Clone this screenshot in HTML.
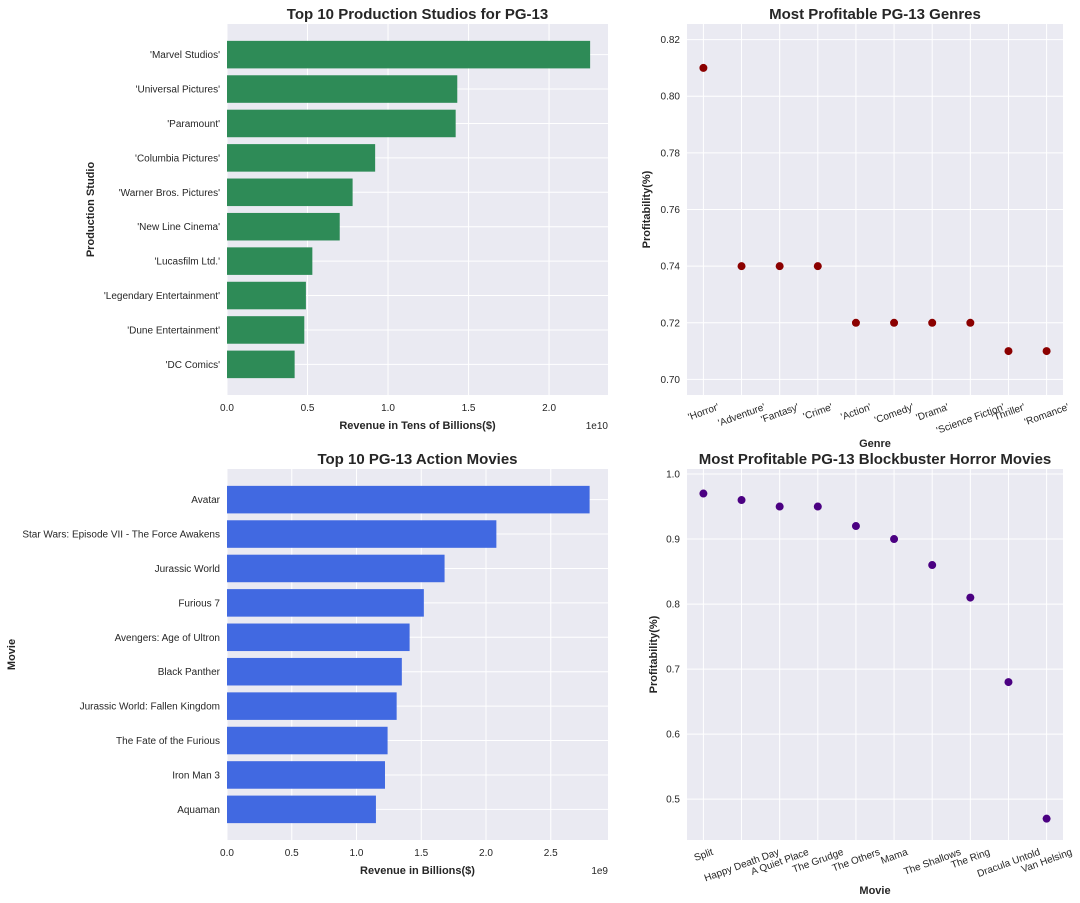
<!DOCTYPE html>
<html><head><meta charset="utf-8"><style>
body{margin:0;background:#fff;}
svg{display:block;font-family:"Liberation Sans",Arial,sans-serif;}
</style></head><body>
<svg id="c" width="1080" height="903"></svg>
<script>
const studios=["'Marvel Studios'","'Universal Pictures'","'Paramount'","'Columbia Pictures'","'Warner Bros. Pictures'","'New Line Cinema'","'Lucasfilm Ltd.'","'Legendary Entertainment'","'Dune Entertainment'","'DC Comics'"];
const studioRevenue=[2.255e10,1.43e10,1.42e10,0.92e10,0.78e10,0.70e10,0.53e10,0.49e10,0.48e10,0.42e10];
const studioTicks=[0,0.5e10,1.0e10,1.5e10,2.0e10];
const studioTickLabels=["0.0","0.5","1.0","1.5","2.0"];
const genres=["'Horror'","'Adventure'","'Fantasy'","'Crime'","'Action'","'Comedy'","'Drama'","'Science Fiction'","'Thriller'","'Romance'"];
const genreProfit=[0.81,0.74,0.74,0.74,0.72,0.72,0.72,0.72,0.71,0.71];
const genreTicks=[0.70,0.72,0.74,0.76,0.78,0.80,0.82];
const movies=["Avatar","Star Wars: Episode VII - The Force Awakens","Jurassic World","Furious 7","Avengers: Age of Ultron","Black Panther","Jurassic World: Fallen Kingdom","The Fate of the Furious","Iron Man 3","Aquaman"];
const movieRevenue=[2.80e9,2.08e9,1.68e9,1.52e9,1.41e9,1.35e9,1.31e9,1.24e9,1.22e9,1.15e9];
const movieTicks=[0,0.5e9,1.0e9,1.5e9,2.0e9,2.5e9];
const movieTickLabels=["0.0","0.5","1.0","1.5","2.0","2.5"];
const horror=["Split","Happy Death Day","A Quiet Place","The Grudge","The Others","Mama","The Shallows","The Ring","Dracula Untold","Van Helsing"];
const horrorProfit=[0.97,0.96,0.95,0.95,0.92,0.90,0.86,0.81,0.68,0.47];
const horrorTicks=[0.5,0.6,0.7,0.8,0.9,1.0];

const NS="http://www.w3.org/2000/svg",svg=document.getElementById('c');
function el(t,a,p,txt){const e=document.createElementNS(NS,t);for(const k in a)e.setAttribute(k,a[k]);if(txt!==undefined)e.textContent=txt;(p||svg).appendChild(e);return e;}
function lin(d0,d1,r0,r1){return v=>r0+(v-d0)/(d1-d0)*(r1-r0);}

function frame(x,y,w,h,name,title){
  const g=el('g',{});
  
  
  const bg=el('rect',{x:x,y:y,width:w,height:h,fill:'#EAEAF2'},g);
  
  
  const t=el('text',{x:x+w/2,y:y-5,'text-anchor':'middle','font-size':15,'font-weight':'bold',fill:'#262626'},g,title);
  
  
  return g;
}

function barChart(o){
  const g=frame(o.x,o.y,o.w,o.h,o.name,o.title);
  const sx=lin(0,o.xmax,o.x,o.x+o.w);
  const n=o.cats.length;
  const sy=lin(-0.89,n-1+0.89,o.y,o.y+o.h);
  o.ticks.forEach((t,i)=>{
    const gl=el('line',{x1:sx(t),x2:sx(t),y1:o.y,y2:o.y+o.h,stroke:'#fff','stroke-width':1},g);
    
    
    const tl=el('text',{x:sx(t),y:o.y+o.h+16,'text-anchor':'middle','font-size':10,fill:'#262626'},g,o.tickLabels[i]);
    
    
  });
  o.cats.forEach((c,i)=>{
    const cy=sy(i);
    const gl=el('line',{x1:o.x,x2:o.x+o.w,y1:cy,y2:cy,stroke:'#fff','stroke-width':1},g);
    
    
  });
  o.cats.forEach((c,i)=>{
    const cy=sy(i),bh=(sy(0.8)-sy(0));
    const b=el('rect',{x:sx(0),y:cy-bh/2,width:sx(o.vals[i])-sx(0),height:bh,fill:o.color},g);
    
    
    const tl=el('text',{x:o.x-7,y:cy+3.5,'text-anchor':'end','font-size':10,fill:'#262626'},g,c);
    
    
  });
  const xt=el('text',{x:o.x+o.w/2,y:o.y+o.h+34,'text-anchor':'middle','font-size':11,'font-weight':'bold',fill:'#262626'},g,o.xlabel);
  
  
  const ex=el('text',{x:o.x+o.w,y:o.y+o.h+34,'text-anchor':'end','font-size':10,fill:'#262626'},g,o.exp);
  
  
  const yt=el('text',{x:0,y:0,'text-anchor':'middle','font-size':11,'font-weight':'bold',fill:'#262626',transform:`translate(${o.ylx},${o.y+o.h/2}) rotate(-90)`},g,o.ylabel);
  
  
}

function scatter(o){
  const g=frame(o.x,o.y,o.w,o.h,o.name,o.title);
  const n=o.cats.length;
  const sx=lin(-0.43,n-1+0.43,o.x,o.x+o.w);
  const sy=lin(o.ymin,o.ymax,o.y+o.h,o.y);
  o.ticks.forEach(t=>{
    const gl=el('line',{x1:o.x,x2:o.x+o.w,y1:sy(t),y2:sy(t),stroke:'#fff','stroke-width':1},g);
    
    
    const tl=el('text',{x:o.x-7,y:sy(t)+3.5,'text-anchor':'end','font-size':10,fill:'#262626'},g,t.toFixed(o.dec));
    
    
  });
  o.cats.forEach((c,i)=>{
    const gl=el('line',{x1:sx(i),x2:sx(i),y1:o.y,y2:o.y+o.h,stroke:'#fff','stroke-width':1},g);
    
    
  });
  o.cats.forEach((c,i)=>{
    const p=el('circle',{cx:sx(i),cy:sy(o.vals[i]),r:4,fill:o.color},g);
    
    
    const tl=el('text',{x:0,y:3.5,'text-anchor':'middle','font-size':10,fill:'#262626'},g,c);
    
    
    const w=tl.getComputedTextLength()||c.length*5.5;
    const bh=w*Math.sin(20*Math.PI/180)+11*Math.cos(20*Math.PI/180);
    const cy=o.y+o.h+6+bh/2;
    tl.setAttribute('transform',`translate(${sx(i)},${cy}) rotate(-20)`);
  });
  const xt=el('text',{x:o.x+o.w/2,y:o.xly,'text-anchor':'middle','font-size':11,'font-weight':'bold',fill:'#262626'},g,o.xlabel);
  
  
  const yt=el('text',{x:0,y:0,'text-anchor':'middle','font-size':11,'font-weight':'bold',fill:'#262626',transform:`translate(${o.ylx},${o.y+o.h/2}) rotate(-90)`},g,o.ylabel);
  
  
}

barChart({x:227,y:24,w:381,h:371,name:'studios-chart',title:'Top 10 Production Studios for PG-13',cats:studios,vals:studioRevenue,xmax:2.366e10,ticks:studioTicks,tickLabels:studioTickLabels,color:'#2E8B57',xlabel:'Revenue in Tens of Billions($)',exp:'1e10',ylabel:'Production Studio',ylx:94});
barChart({x:227,y:469,w:381,h:371,name:'action-movies-chart',title:'Top 10 PG-13 Action Movies',cats:movies,vals:movieRevenue,xmax:2.942e9,ticks:movieTicks,tickLabels:movieTickLabels,color:'#4169E1',xlabel:'Revenue in Billions($)',exp:'1e9',ylabel:'Movie',ylx:15});
scatter({x:687,y:24,w:376,h:371,name:'genres-chart',title:'Most Profitable PG-13 Genres',cats:genres,vals:genreProfit,ymin:0.6945,ymax:0.8255,ticks:genreTicks,dec:2,color:'#8B0000',xlabel:'Genre',xly:447,ylabel:'Profitability(%)',ylx:650});
scatter({x:687,y:469,w:376,h:371,name:'horror-movies-chart',title:'Most Profitable PG-13 Blockbuster Horror Movies',cats:horror,vals:horrorProfit,ymin:0.4372,ymax:1.0077,ticks:horrorTicks,dec:1,color:'#4B0082',xlabel:'Movie',xly:894,ylabel:'Profitability(%)',ylx:657});
</script>
</body></html>
